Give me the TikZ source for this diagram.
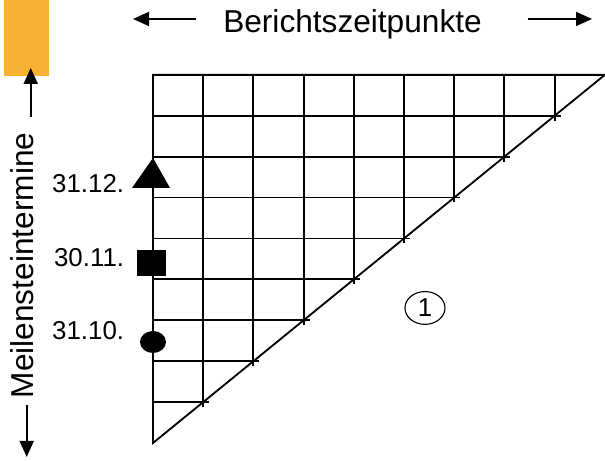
\documentclass[tikz,border=0pt]{standalone}
\usepackage{fontspec}
\setmainfont{Liberation Sans}
\usetikzlibrary{arrows.meta,shapes.geometric}
\definecolor{milestoneorange}{RGB}{247,177,51}

\begin{document}
\begin{tikzpicture} [x=1.255cm,y=1.0225cm,line width=1.3pt,
  big/.style={font=\fontsize{22.5}{26}\selectfont,inner sep=0pt},
  date/.style={font=\fontsize{18.4}{22}\selectfont,anchor=base east,inner sep=0pt},
  tip/.style={-{Triangle[length=0.4cm,width=0.35cm]}}]
\useasboundingbox (-3.048,-0.44) rectangle (9.004,10.831);
\fill [milestoneorange] (-2.968,8.973) rectangle (-2.072,10.831);
% triangle with grid
\coordinate (o) at (0,0);
\coordinate (t) at (0,9);
\coordinate (r) at (9,9);
\draw (o)--(t)--(r)--cycle;
\foreach \k in {1,...,8} {
  \draw (0,\k) -- (\k+0.12,\k);
  \draw (\k,9) -- (\k,\k-0.12);
}
% axis texts
\node [big,anchor=base] (bz) at (3.974,10.024) {Berichtszeitpunkte};
\node [big,rotate=90,anchor=base] (ms) at (-2.39,4.34) {Meilensteintermine};
\coordinate (l0) at (0.857,10.367);
\coordinate (l1) at (-0.398,10.367);
\coordinate (r0) at (7.47,10.367);
\coordinate (r1) at (8.745,10.367);
\coordinate (u0) at (-2.436,7.971);
\coordinate (u1) at (-2.436,9.169);
\coordinate (w0) at (-2.516,0.929);
\coordinate (w1) at (-2.516,-0.342);
\draw [tip] (l0)--(l1);
\draw [tip] (r0)--(r1);
\draw [tip] (u0)--(u1);
\draw [tip] (w0)--(w1);
% milestones
\fill (0,6.968)--(-0.418,6.235)--(0.339,6.235)--cycle;
\fill (-0.319,4.083) rectangle (0.259,4.719);
\fill (0,2.469) ellipse [x radius=0.325cm,y radius=0.275cm];
\node [date] (d3) at (-0.558,6.112) {31.12.};
\node [date] (d2) at (-0.558,4.303) {30.11.};
\node [date] (d1) at (-0.558,2.518) {31.10.};
\node [draw,ellipse,line width=0.8pt,inner sep=0pt,minimum width=1.0cm,minimum height=0.82cm,
  font=\fontsize{18.4}{22}\selectfont] (one) at (5.418,3.301) {1};
\end{tikzpicture}
\end{document}
